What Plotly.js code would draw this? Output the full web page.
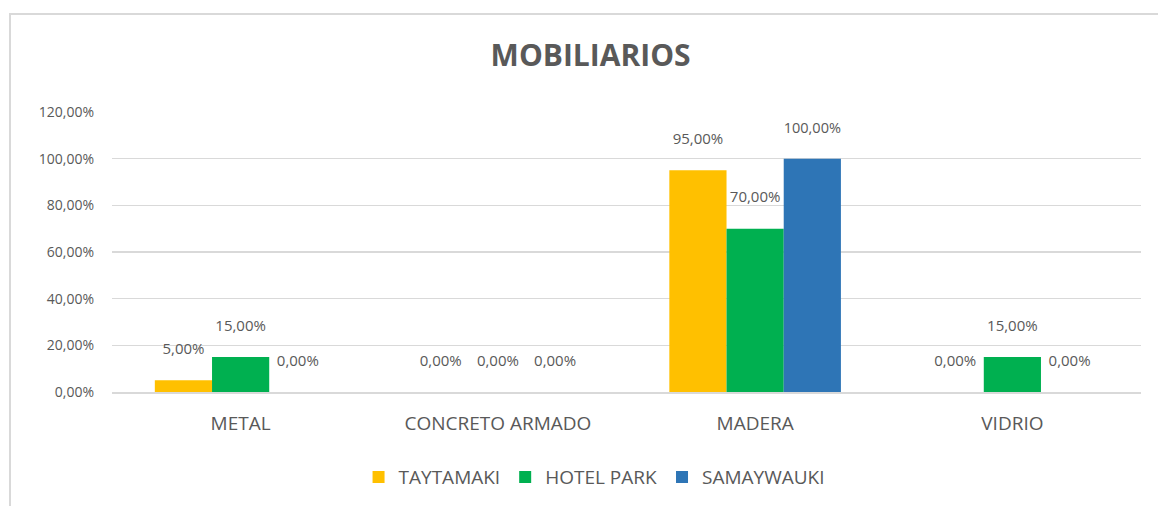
<!DOCTYPE html>
<html>
<head>
<meta charset="utf-8">
<script src="https://cdn.plot.ly/plotly-3.0.1.min.js"></script>
<style>
  html, body { margin: 0; padding: 0; background: #fff; }
  #chart { width: 1158px; height: 506px; }
  #frame { position: absolute; left: 9px; top: 13px; width: 1160px; height: 500px;
           border: 2px solid #d9d9d9; box-sizing: border-box; pointer-events: none; }
</style>
</head>
<body>
<div id="chart"></div>
<div id="frame"></div>
<script>
const categories = ["METAL", "CONCRETO ARMADO", "MADERA", "VIDRIO"];
const taytamaki = [0.05, 0.00, 0.95, 0.00];
const hotelPark = [0.15, 0.00, 0.70, 0.15];
const samaywauki = [0.00, 0.00, 1.00, 0.00];
const yTicks = [0, 0.2, 0.4, 0.6, 0.8, 1.0, 1.2];

const FONT = "Open Sans, Liberation Sans, sans-serif";
const GRAY = "#595959";

function series(name, vals, color) {
  return {
    type: "bar", name: name, x: categories, y: vals,
    marker: { color: color },
    texttemplate: "%{y:.2%}<br> ", textposition: "outside",
    textfont: { family: FONT, size: 15, color: GRAY },
    cliponaxis: false, hoverinfo: "skip"
  };
}

const data = [
  series("TAYTAMAKI", taytamaki, "#FFC000"),
  series("HOTEL PARK", hotelPark, "#00B050"),
  series("SAMAYWAUKI", samaywauki, "#2E75B6")
];

const layout = {
  width: 1158, height: 506,
  separators: ",.",
  paper_bgcolor: "#fff", plot_bgcolor: "#fff",
  font: { family: FONT, color: GRAY },
  margin: { l: 112, r: 17, t: 112, b: 114 },
  title: { text: "<b>MOBILIARIOS</b>", xref: "container", x: 0.51, xanchor: "center",
           yref: "container", y: 0.89, yanchor: "middle",
           font: { family: FONT, size: 30, color: GRAY } },
  barmode: "group", bargap: 0.333, bargroupgap: 0,
  xaxis: { showgrid: false, showline: true, linecolor: "#d9d9d9", linewidth: 1.5,
           ticks: "", ticklabelstandoff: 14,
           tickfont: { family: FONT, size: 19, color: GRAY } },
  yaxis: { range: [0, 1.2], tickvals: yTicks, tickformat: ".2%",
           showgrid: true, gridcolor: "#d9d9d9", gridwidth: 1.5,
           zeroline: false, showline: false, ticks: "", ticklabelstandoff: 17,
           tickfont: { family: FONT, size: 14, color: GRAY } },
  legend: { orientation: "h", xref: "container", x: 0.513, xanchor: "center",
            yref: "container", y: 0.057, yanchor: "middle",
            font: { family: FONT, size: 19, color: GRAY },
            itemwidth: 30, tracegroupgap: 0 },
  showlegend: true
};

Plotly.newPlot("chart", data, layout, { displayModeBar: false, staticPlot: true });
</script>
</body>
</html>
